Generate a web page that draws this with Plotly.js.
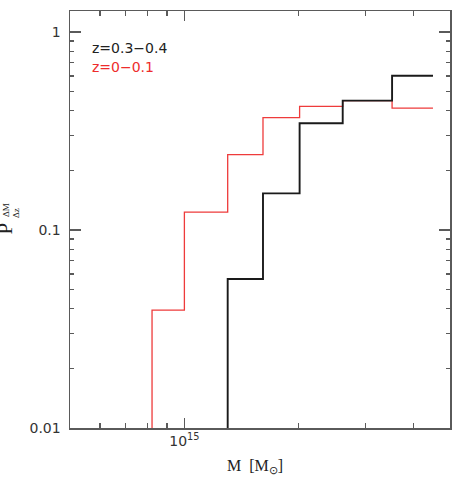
<!DOCTYPE html>
<html>
<head>
<meta charset="utf-8">
<script src="https://cdn.plot.ly/plotly-3.0.1.min.js"></script>
<style>html,body{margin:0;padding:0;background:#fff;}#chart{width:454px;height:478px;}</style>
</head>
<body>
<div id="chart"></div>
<script>
// Bin edges (solar masses) and probabilities
var edgesLowZ = [8.22e14, 1.00e15, 1.30e15, 1.61e15, 2.01e15, 2.61e15, 3.52e15, 4.51e15];
var probLowZ  = [0.0394, 0.123, 0.240, 0.369, 0.421, 0.450, 0.413];
var edgesHighZ = [1.30e15, 1.61e15, 2.01e15, 2.61e15, 3.52e15, 4.51e15];
var probHighZ  = [0.0566, 0.153, 0.346, 0.450, 0.601];
var labelHighZ = "z=0.3\u22120.4";
var labelLowZ  = "z=0\u22120.1";
var yMajorTicks = [0.01, 0.1, 1];
var yMajorLabels = ["0.01", "0.1", "1"];
var yMinorTicks = [0.02,0.03,0.04,0.05,0.06,0.07,0.08,0.09,0.2,0.3,0.4,0.5,0.6,0.7,0.8,0.9];
var xMajorTicks = [1e15];
var xMajorLabels = ["10<sup>15</sup>"];
var xMinorTicks = [6e14, 7e14, 8e14, 9e14, 2e15, 3e15, 4e15];

function steps(edges, vals) {
  var xs = [edges[0]], ys = [0.005];
  for (var i = 0; i < vals.length; i++) { xs.push(edges[i]); ys.push(vals[i]); }
  xs.push(edges[edges.length - 1]); ys.push(vals[vals.length - 1]);
  return {x: xs, y: ys};
}
var sL = steps(edgesLowZ, probLowZ);
var sH = steps(edgesHighZ, probHighZ);

var axCol = '#5a5a5a';
var traces = [
  {x: sL.x, y: sL.y, mode: 'lines', line: {shape: 'hv', color: '#ee3b3b', width: 1.3}, hoverinfo: 'skip', showlegend: false},
  {x: sH.x, y: sH.y, mode: 'lines', line: {shape: 'hv', color: '#1a1a1a', width: 1.9}, hoverinfo: 'skip', showlegend: false}
];

var xr = [Math.log10(5e14), Math.log10(5e15)];
var yr = [-2, 0.106];
var tickFont = {family: 'DejaVu Sans', size: 14, color: '#333'};

var layout = {
  width: 454, height: 478,
  margin: {l: 70, r: 4, t: 11, b: 50},
  paper_bgcolor: '#fff', plot_bgcolor: '#fff',
  showlegend: false,
  xaxis: {type: 'log', range: xr, tickvals: xMajorTicks, ticktext: xMajorLabels,
    ticks: 'inside', ticklen: 10, tickwidth: 1.3, tickcolor: axCol,
    showline: true, linecolor: axCol, linewidth: 1.5, mirror: 'ticks',
    showgrid: false, zeroline: false, tickfont: tickFont},
  xaxis2: {type: 'log', range: xr, overlaying: 'x', anchor: 'y', side: 'bottom',
    tickvals: xMinorTicks, ticks: 'inside', ticklen: 5, tickwidth: 1.3, tickcolor: axCol,
    showticklabels: false, showline: true, linecolor: axCol, linewidth: 1.5, mirror: 'ticks',
    showgrid: false, zeroline: false},
  yaxis: {type: 'log', range: yr, tickvals: yMajorTicks, ticktext: yMajorLabels,
    ticks: 'inside', ticklen: 11, tickwidth: 1.3, tickcolor: axCol,
    showline: true, linecolor: axCol, linewidth: 1.5, mirror: 'ticks',
    showgrid: false, zeroline: false, tickfont: tickFont, ticklabelstandoff: 5},
  yaxis2: {type: 'log', range: yr, overlaying: 'y', anchor: 'x', side: 'left',
    tickvals: yMinorTicks, ticks: 'inside', ticklen: 4, tickwidth: 1.3, tickcolor: axCol,
    showticklabels: false, showline: true, linecolor: axCol, linewidth: 1.5, mirror: 'ticks',
    showgrid: false, zeroline: false},
  annotations: [
    {xref: 'paper', yref: 'paper', x: 0, y: 1, xshift: 20, yshift: -37, xanchor: 'left', yanchor: 'middle', showarrow: false,
     text: labelHighZ, font: {family: 'DejaVu Sans', size: 14, color: '#222'}},
    {xref: 'paper', yref: 'paper', x: 0, y: 1, xshift: 20, yshift: -56, xanchor: 'left', yanchor: 'middle', showarrow: false,
     text: labelLowZ, font: {family: 'DejaVu Sans', size: 14, color: '#ee2c2c'}},
    {xref: 'paper', yref: 'paper', x: 0, y: 0, xshift: 185, yshift: -38, xanchor: 'center', yanchor: 'middle', showarrow: false,
     text: 'M  [M<sub>\u2299</sub>]', font: {family: 'Liberation Serif', size: 16, color: '#222'}},
    {xref: 'paper', yref: 'paper', x: 0, y: 0.5, xshift: -66, yshift: -9, xanchor: 'center', yanchor: 'middle', showarrow: false,
     textangle: -90, text: 'P', font: {family: 'Liberation Serif', size: 21, color: '#222'}},
    {xref: 'paper', yref: 'paper', x: 0, y: 0.5, xshift: -64.5, yshift: 9, xanchor: 'center', yanchor: 'middle', showarrow: false,
     textangle: -90, text: '\u0394M', font: {family: 'Liberation Serif', size: 9, color: '#222'}},
    {xref: 'paper', yref: 'paper', x: 0, y: 0.5, xshift: -54.5, yshift: 6, xanchor: 'center', yanchor: 'middle', showarrow: false,
     textangle: -90, text: '\u0394z', font: {family: 'Liberation Serif', size: 9, color: '#222'}}
  ]
};
traces.push({x: [1e15], y: [0.5], xaxis: 'x2', yaxis: 'y2', mode: 'markers', marker: {opacity: 0}, hoverinfo: 'skip', showlegend: false});
Plotly.newPlot('chart', traces, layout, {displayModeBar: false, staticPlot: true});
</script>
</body>
</html>
